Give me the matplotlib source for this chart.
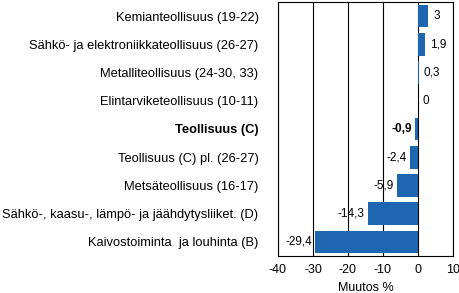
import matplotlib
matplotlib.use("Agg")
import matplotlib.pyplot as plt

categories = [
    "Kemianteollisuus (19-22)",
    "Sähkö- ja elektroniikkateollisuus (26-27)",
    "Metalliteollisuus (24-30, 33)",
    "Elintarviketeollisuus (10-11)",
    "Teollisuus (C)",
    "Teollisuus (C) pl. (26-27)",
    "Metsäteollisuus (16-17)",
    "Sähkö-, kaasu-, lämpö- ja jäähdytysliiket. (D)",
    "Kaivostoiminta  ja louhinta (B)",
]
values = [3, 1.9, 0.3, 0, -0.9, -2.4, -5.9, -14.3, -29.4]
value_labels = ["3", "1,9", "0,3", "0", "-0,9", "-2,4", "-5,9", "-14,3", "-29,4"]
bold_index = 4
xticks = [-40, -30, -20, -10, 0, 10]
xlabel = "Muutos %"

plt.rcParams['font.family'] = ['Liberation Sans', 'DejaVu Sans']
fig = plt.figure(figsize=(4.6, 2.93), dpi=100)
ax = fig.add_axes([278/460, 1 - 256/293, 175/460, 254/293])

n = len(categories)
ypos = list(range(n))
ax.barh(ypos, values, height=0.8, color="#1f66b1", zorder=3)
ax.set_ylim(n - 0.5, -0.5)
ax.set_xlim(-40, 10)
ax.set_xticks(xticks)
ax.set_xticklabels([str(t) for t in xticks], fontsize=9)
ax.set_yticks(ypos)
ax.set_yticklabels(categories, fontsize=9.3)
for i, lbl in enumerate(ax.get_yticklabels()):
    if i == bold_index:
        lbl.set_fontweight("bold")
ax.tick_params(axis='y', length=0, pad=14)
ax.tick_params(axis='x', length=0, pad=6)
ax.grid(axis='x', color='black', linewidth=0.8, zorder=1)
for s in ax.spines.values():
    s.set_color('black')
    s.set_linewidth(0.8)
ax.set_xlabel(xlabel, fontsize=9, labelpad=4)

for i, (v, t) in enumerate(zip(values, value_labels)):
    w = "bold" if i == bold_index else "normal"
    if v >= 0:
        ax.text(v + 1.4, i, t, va='center', ha='left', fontsize=8.5, fontweight=w, zorder=4)
    else:
        ax.text(v - 0.9, i, t, va='center', ha='right', fontsize=8.5, fontweight=w, zorder=4)

fig.savefig("out.png", dpi=100)
